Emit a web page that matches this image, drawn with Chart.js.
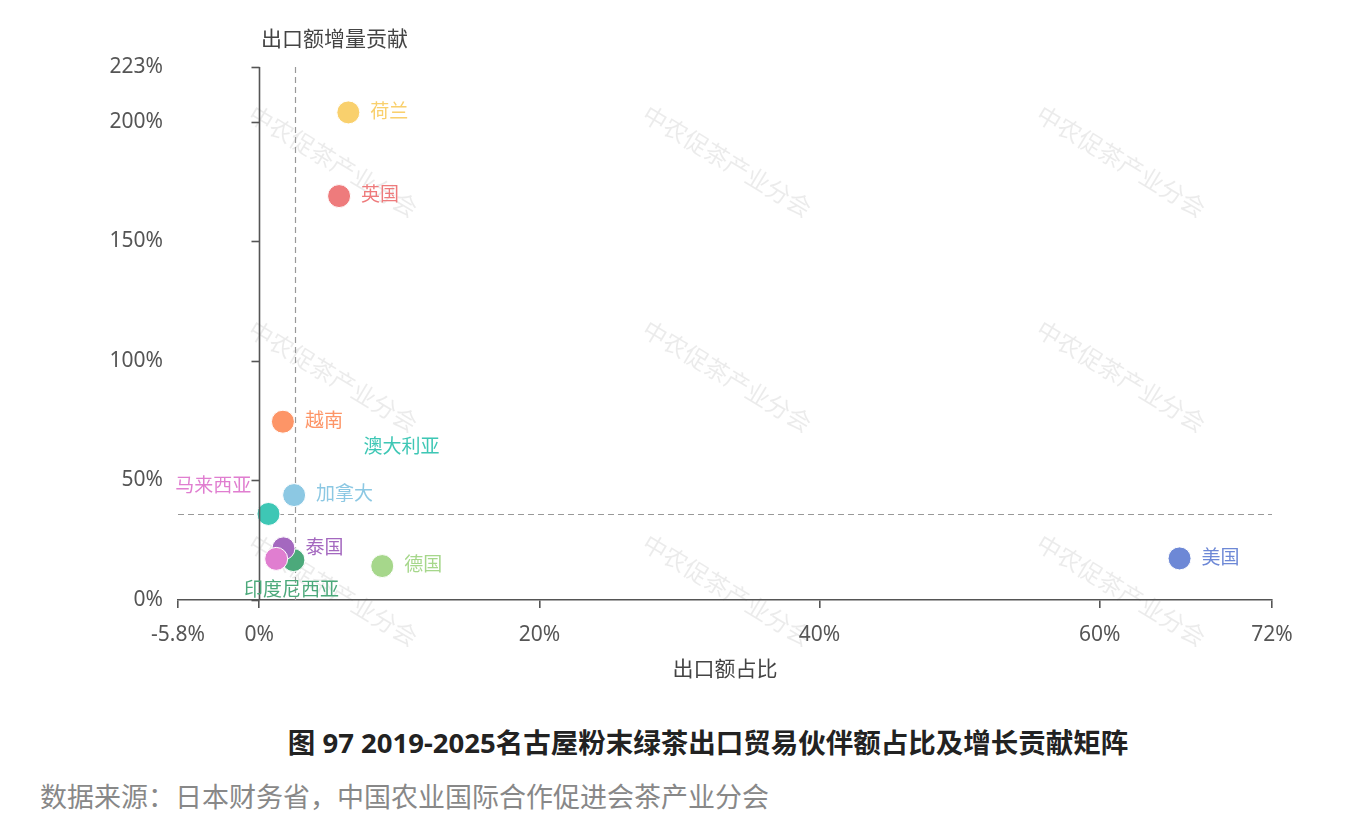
<!DOCTYPE html>
<html>
<head>
<meta charset="utf-8">
<script src="https://cdn.jsdelivr.net/npm/chart.js@4.4.1/dist/chart.umd.min.js"></script>
<style>
body{margin:0;background:#fff;width:1358px;height:837px;position:relative;overflow:hidden;font-family:"Noto Sans","Noto Sans CJK SC",sans-serif}
#graph{position:absolute;left:0;top:0}
.caption{position:absolute;top:724px;left:0;width:1416px;text-align:center;font-weight:bold;font-size:27.5px;line-height:38px;color:#222}
.source{position:absolute;top:778px;left:40px;font-size:27px;line-height:38px;color:#888}
</style>
</head>
<body>
<canvas id="graph" width="1358" height="700"></canvas>
<div class="caption">图 97 2019-2025名古屋粉末绿茶出口贸易伙伴额占比及增长贡献矩阵</div>
<div class="source">数据来源：日本财务省，中国农业国际合作促进会茶产业分会</div>
<script>
// data
let countries = ['美国', '荷兰', '英国', '德国', '越南', '加拿大', '澳大利亚', '印度尼西亚', '泰国', '马来西亚'];
let shareValues = [65.7, 6.36, 5.7, 8.78, 1.69, 2.49, 0.66, 2.44, 1.73, 1.21];      // 出口额占比 %
let growthValues = [17.4, 204.0, 169.0, 14.2, 74.6, 43.9, 36.0, 16.7, 21.6, 17.2];  // 出口额增量贡献 %
let avgShare = 2.52;
let avgGrowth = 35.9;
let xTicks = [-5.8, 0, 20, 40, 60, 72.3];
let xTickLabels = ['-5.8%', '0%', '20%', '40%', '60%', '72%'];
let yTicks = [0, 50, 100, 150, 200, 223];
let yTickLabels = ['0%', '50%', '100%', '150%', '200%', '223%'];

let colors = {
    '美国': '#6d88d6', '荷兰': '#f9d06d', '英国': '#ee7b7c', '德国': '#a6d78b', '越南': '#fd9567',
    '加拿大': '#8cc8e3', '澳大利亚': '#3ec7b5', '印度尼西亚': '#4ca97b', '泰国': '#a468bf', '马来西亚': '#e07ed0'
};
// label placement relative to the point
let labelPlace = {
    '澳大利亚': { dx: 95, dy: -66, align: 'left' },
    '马来西亚': { dx: -25, dy: -72, align: 'right' },
    '印度尼西亚': { dx: -2, dy: 31, align: 'center' }
};
let FONT = '"Noto Sans", "Noto Sans CJK SC", sans-serif';
let AXIS = '#555';

let points = countries.map((c, i) => ({ x: shareValues[i], y: growthValues[i] }));

let watermark = {
    id: 'watermark',
    beforeDraw(chart) {
        let ctx = chart.ctx;
        ctx.save();
        ctx.font = '24px ' + FONT;
        ctx.fillStyle = 'rgba(0,0,0,0.08)';
        ctx.textAlign = 'center';
        ctx.textBaseline = 'middle';
        [163, 378, 592].forEach(cy => {
            [332, 726, 1120].forEach(cx => {
                ctx.save();
                ctx.translate(cx, cy);
                ctx.rotate(31 * Math.PI / 180);
                ctx.fillText('中农促茶产业分会', 0, 0);
                ctx.restore();
            });
        });
        ctx.restore();
    }
};

let guides = {
    id: 'guides',
    beforeDatasetsDraw(chart) {
        let ctx = chart.ctx, x = chart.scales.x, y = chart.scales.y, a = chart.chartArea;
        ctx.save();
        ctx.strokeStyle = '#999';
        ctx.lineWidth = 1.2;
        ctx.setLineDash([6, 4]);
        let px = Math.round(x.getPixelForValue(avgShare)) + 0.5;
        ctx.beginPath(); ctx.moveTo(px, a.top); ctx.lineTo(px, a.bottom); ctx.stroke();
        let py = Math.round(y.getPixelForValue(avgGrowth)) + 0.5;
        ctx.beginPath(); ctx.moveTo(a.left, py); ctx.lineTo(a.right, py); ctx.stroke();
        ctx.restore();
    },
    afterDatasetsDraw(chart) {
        let ctx = chart.ctx, x = chart.scales.x, y = chart.scales.y, a = chart.chartArea;
        ctx.save();
        // y axis sits on x = 0
        let x0 = Math.round(x.getPixelForValue(0)) + 0.5;
        ctx.strokeStyle = AXIS;
        ctx.lineWidth = 1.6;
        ctx.beginPath(); ctx.moveTo(x0, a.top); ctx.lineTo(x0, a.bottom); ctx.stroke();
        yTicks.forEach(v => {
            let ty = Math.round(y.getPixelForValue(v)) + 0.5;
            ctx.beginPath(); ctx.moveTo(x0 - 8, ty); ctx.lineTo(x0, ty); ctx.stroke();
        });
        // axis names
        ctx.fillStyle = '#444';
        ctx.font = '21px ' + FONT;
        ctx.textAlign = 'center';
        ctx.textBaseline = 'middle';
        ctx.fillText('出口额增量贡献', x0 + 75, 40);
        ctx.fillText('出口额占比', (a.left + a.right) / 2, 670);
        // point labels
        ctx.font = '19px ' + FONT;
        let meta = chart.getDatasetMeta(0);
        countries.forEach((c, i) => {
            let p = meta.data[i];
            let lp = labelPlace[c] || { dx: 22, dy: 0, align: 'left' };
            ctx.fillStyle = colors[c];
            ctx.textAlign = lp.align;
            ctx.fillText(c, p.x + lp.dx, p.y + lp.dy);
        });
        ctx.restore();
    }
};

let graph = document.getElementById('graph').getContext('2d');
let matrix = new Chart(graph, {
    type: 'scatter',
    data: {
        datasets: [{
            label: '出口额占比及增长贡献',
            data: points,
            pointRadius: 11.5,
            pointHoverRadius: 11.5,
            pointBackgroundColor: countries.map(c => colors[c]),
            pointBorderColor: '#fff',
            pointBorderWidth: 1
        }]
    },
    options: {
        responsive: false,
        animation: false,
        layout: { padding: { top: 67, right: 86, bottom: 0, left: 0 } },
        plugins: { legend: { display: false }, tooltip: { enabled: false } },
        scales: {
            x: {
                type: 'linear',
                min: -5.8,
                max: 72.3,
                afterBuildTicks: s => { s.ticks = xTicks.map(v => ({ value: v })); },
                afterFit: s => { s.height = 100; },
                grid: { drawOnChartArea: false, color: AXIS, tickLength: 8, lineWidth: 1.6 },
                border: { color: AXIS, width: 1.6 },
                ticks: {
                    padding: 14,
                    color: '#555',
                    font: { family: FONT, size: 21 },
                    callback: (v, i) => xTickLabels[i]
                }
            },
            y: {
                type: 'linear',
                min: 0,
                max: 223,
                afterBuildTicks: s => { s.ticks = yTicks.map(v => ({ value: v })); },
                afterFit: s => { s.width = 178; },
                grid: { display: false, drawTicks: false },
                border: { display: false },
                ticks: {
                    padding: 15,
                    color: '#555',
                    font: { family: FONT, size: 21 },
                    callback: (v, i) => yTickLabels[i]
                }
            }
        }
    },
    plugins: [watermark, guides]
});
</script>
</body>
</html>
